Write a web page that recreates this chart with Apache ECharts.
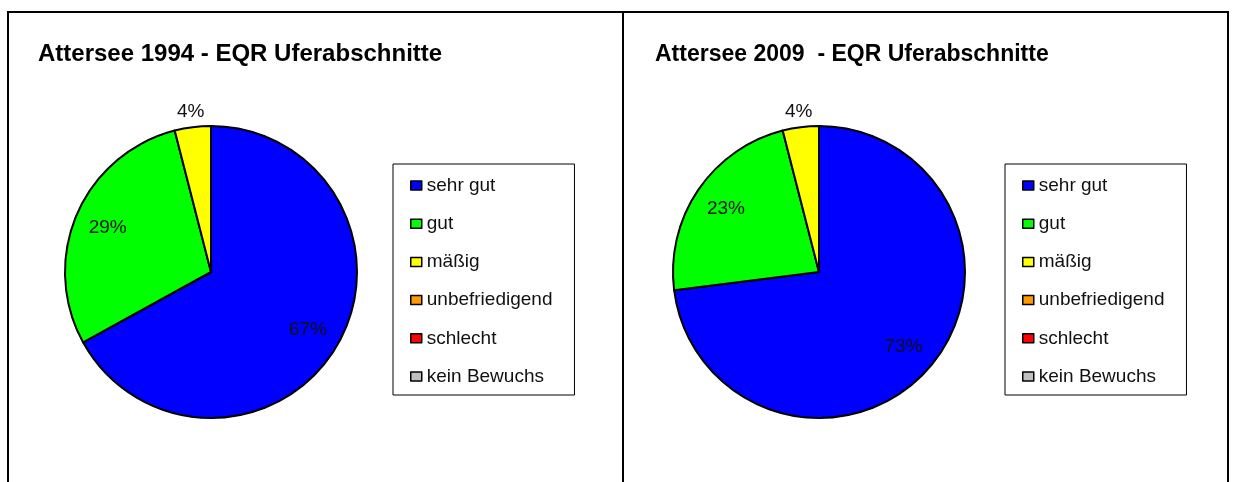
<!DOCTYPE html>
<html>
<head>
<meta charset="utf-8">
<script src="https://cdn.jsdelivr.net/npm/echarts@6/dist/echarts.min.js"></script>
<style>
  html, body { margin: 0; padding: 0; background: #fff; }
  #main { width: 1233px; height: 482px; }
</style>
</head>
<body>
<div id="main"></div>
<script>
// Kategorien und Werte (Anteile in %)
const categories = ['sehr gut', 'gut', 'mäßig', 'unbefriedigend', 'schlecht', 'kein Bewuchs'];
const colors = ['#0000ff', '#00ff00', '#ffff00', '#ff9900', '#ff0000', '#c0c0c0'];
const values1994 = [67, 29, 4, 0, 0, 0];
const values2009 = [73, 23, 4, 0, 0, 0];
const titles = ['Attersee 1994 - EQR Uferabschnitte', 'Attersee 2009  - EQR Uferabschnitte'];

const FONT = 'Arial, "Liberation Sans", sans-serif';
const R = 146;

const chart = echarts.init(document.getElementById('main'));

function toData(values) {
  return categories.map((name, i) => ({ name, value: values[i], itemStyle: { color: colors[i] } }));
}

// eine Torte + zwei unsichtbare Ringe für die Beschriftungen
function pieSeries(values, cx) {
  const data = toData(values);
  const labelRing = (radius, show) => ({
    type: 'pie',
    center: [cx, 272],
    radius: radius,
    silent: true,
    legendHoverLink: false,
    data: data.map(d => ({ name: d.name, value: d.value })),
    itemStyle: { color: 'rgba(0,0,0,0)', borderWidth: 0 },
    label: {
      show: true,
      position: 'inside',
      fontFamily: FONT,
      fontSize: 19,
      color: '#111',
      formatter: p => (show(p.value) ? p.value + '%' : '')
    },
    labelLine: { show: false },
    emphasis: { disabled: true }
  });
  return [
    {
      type: 'pie',
      center: [cx, 272],
      radius: [0, R],
      data: data,
      itemStyle: { borderColor: '#000', borderWidth: 2 },
      label: { show: false },
      labelLine: { show: false },
      emphasis: { disabled: true }
    },
    labelRing([R / 2, R], v => v >= 10),
    labelRing([R, R + 25], v => v > 0 && v < 10)
  ];
}

function legend(left) {
  return {
    orient: 'vertical',
    left: left,
    top: 164,
    padding: [12, 22, 9, 17],
    borderColor: '#000',
    borderWidth: 1,
    itemWidth: 11,
    itemHeight: 9,
    itemGap: 19.2,
    icon: 'rect',
    itemStyle: { borderColor: '#000', borderWidth: 1.5 },
    selectedMode: false,
    data: categories,
    textStyle: { fontFamily: FONT, fontSize: 19, color: '#111' }
  };
}

chart.setOption({
  animation: false,
  backgroundColor: '#fff',
  title: [
    { text: titles[0], left: 33, top: 37, textStyle: { fontFamily: FONT, fontSize: 24, fontWeight: 'bold', color: '#000' } },
    { text: titles[1], left: 650, top: 38, textStyle: { fontFamily: FONT, fontSize: 23, fontWeight: 'bold', color: '#000' } }
  ],
  legend: [legend(393), legend(1005)],
  graphic: [
    { type: 'polyline', shape: { points: [[8, 482], [8, 12], [1228, 12], [1228, 482]] }, style: { stroke: '#000', lineWidth: 2, fill: null } },
    { type: 'line', shape: { x1: 623, y1: 12, x2: 623, y2: 482 }, style: { stroke: '#000', lineWidth: 2 } }
  ],
  series: [...pieSeries(values1994, 211), ...pieSeries(values2009, 819)]
});
</script>
</body>
</html>
